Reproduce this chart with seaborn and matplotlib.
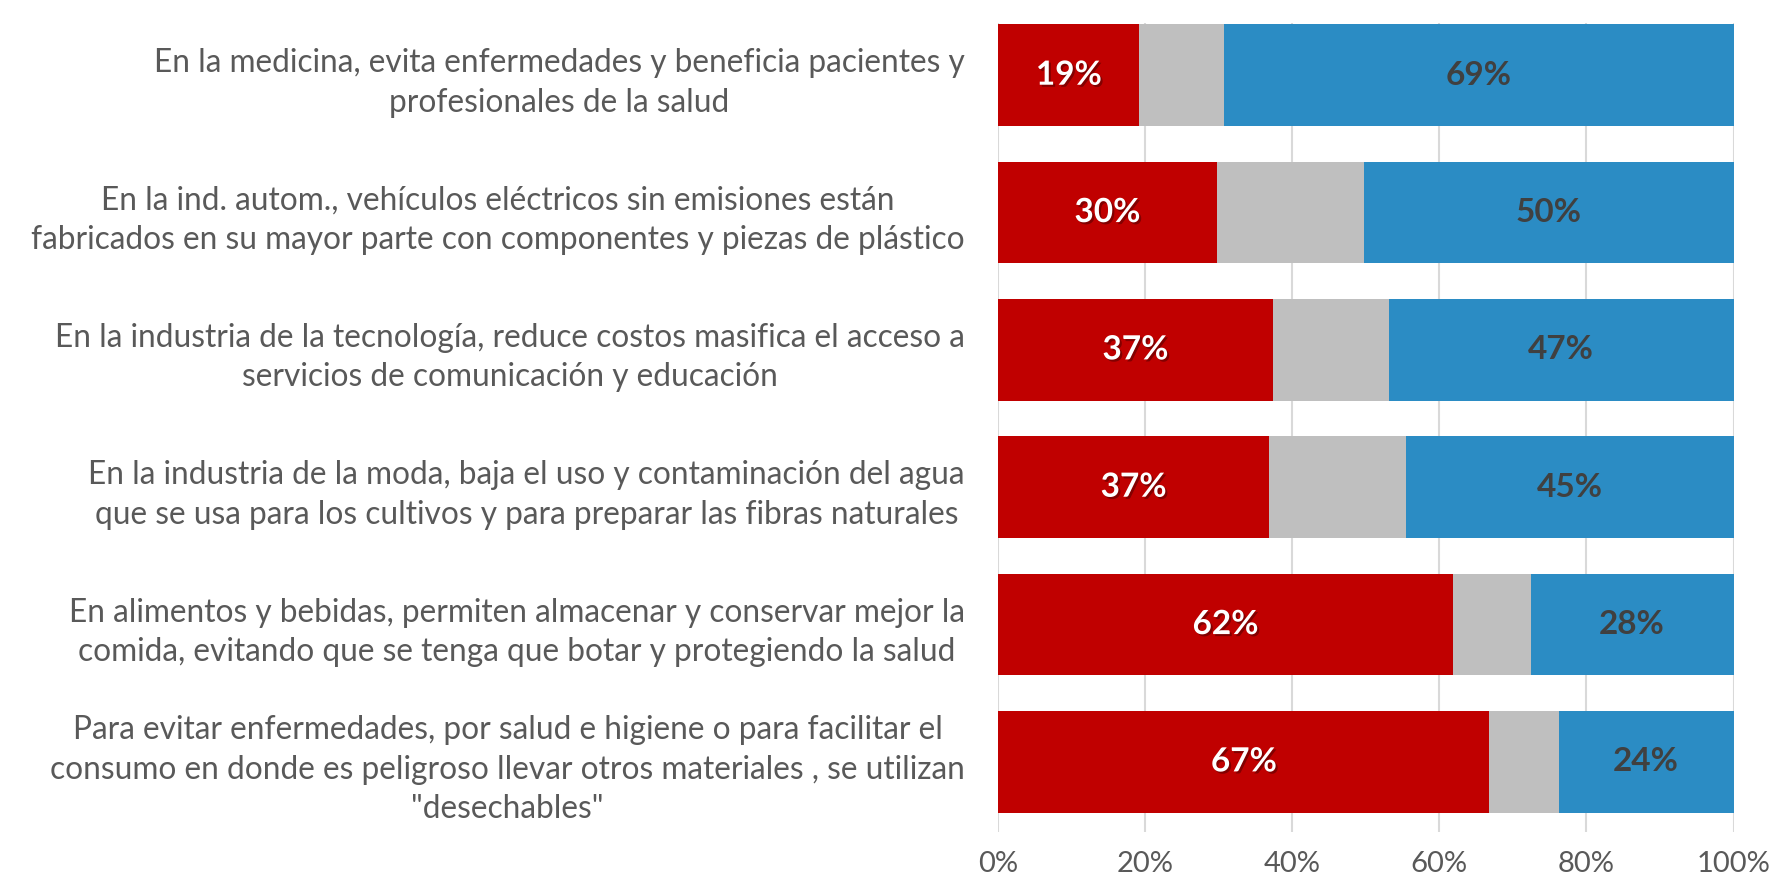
import numpy as np
import pandas as pd
import seaborn as sns
import matplotlib.pyplot as plt
import matplotlib.patheffects as pe

# Datos
categorias = [
    "En la medicina, evita enfermedades y beneficia pacientes y\nprofesionales de la salud",
    "En la ind. autom., vehículos eléctricos sin emisiones están\nfabricados en su mayor parte con componentes y piezas de plástico",
    "En la industria de la tecnología, reduce costos masifica el acceso a\nservicios de comunicación y educación",
    "En la industria de la moda, baja el uso y contaminación del agua\nque se usa para los cultivos y para preparar las fibras naturales",
    "En alimentos y bebidas, permiten almacenar y conservar mejor la\ncomida, evitando que se tenga que botar y protegiendo la salud",
    "Para evitar enfermedades, por salud e higiene o para facilitar el\nconsumo en donde es peligroso llevar otros materiales , se utilizan\n\"desechables\"",
]
rojo = [19.2, 29.7, 37.3, 36.8, 61.8, 66.8]
gris = [11.5, 20.0, 15.8, 18.6, 10.6, 9.4]
azul = [69.3, 50.3, 46.9, 44.6, 27.6, 23.8]
ticks_x = [0, 20, 40, 60, 80, 100]

df = pd.DataFrame({"cat": categorias, "rojo": rojo, "gris": gris, "azul": azul})
df["c_gris"] = df["rojo"] + df["gris"]
df["c_azul"] = df["c_gris"] + df["azul"]

sns.set_style("white")
plt.rcParams["font.family"] = ["Lato", "DejaVu Sans"]

fig = plt.figure(figsize=(17.89, 8.86), dpi=100)
ax = fig.add_axes([0.558, 0.061, 0.411, 0.913])

# Barras apiladas: se dibujan los acumulados de mayor a menor
for col, color in [("c_azul", "#2B8CC4"), ("c_gris", "#BFBFBF"), ("rojo", "#C00000")]:
    sns.barplot(data=df, x=col, y="cat", color=color, width=0.74,
                saturation=1, orient="h", ax=ax, edgecolor="none")

# Etiquetas de valores
for i, r in df.iterrows():
    ax.text(r["rojo"] / 2, i, f"{r['rojo']:.0f}%", ha="center", va="center",
            color="white", fontsize=24, fontweight="bold",
            path_effects=[pe.withSimplePatchShadow(offset=(1.5, -1.5), shadow_rgbFace="#5a0000", alpha=0.6)])
    ax.text(r["c_gris"] + r["azul"] / 2, i, f"{r['azul']:.0f}%", ha="center", va="center",
            color="#404040", fontsize=24, fontweight="bold")

ax.set_xlim(0, 100)
ax.set_ylim(5.51, -0.38)
ax.set_xticks(ticks_x)
ax.set_xticklabels([f"{t}%" for t in ticks_x], color="#595959", fontsize=21)
ax.tick_params(axis="x", length=0, pad=14)
ax.tick_params(axis="y", length=0, pad=24, labelsize=22.8, labelcolor="#595959")
for lbl in ax.get_yticklabels():
    lbl.set_multialignment("center")
    lbl.set_linespacing(1.4)
ax.set_xlabel("")
ax.set_ylabel("")
ax.xaxis.grid(True, color="#D9D9D9", linewidth=1.5)
ax.set_axisbelow(True)
for s in ax.spines.values():
    s.set_visible(False)

fig.savefig("out.png", dpi=100, facecolor="white")
